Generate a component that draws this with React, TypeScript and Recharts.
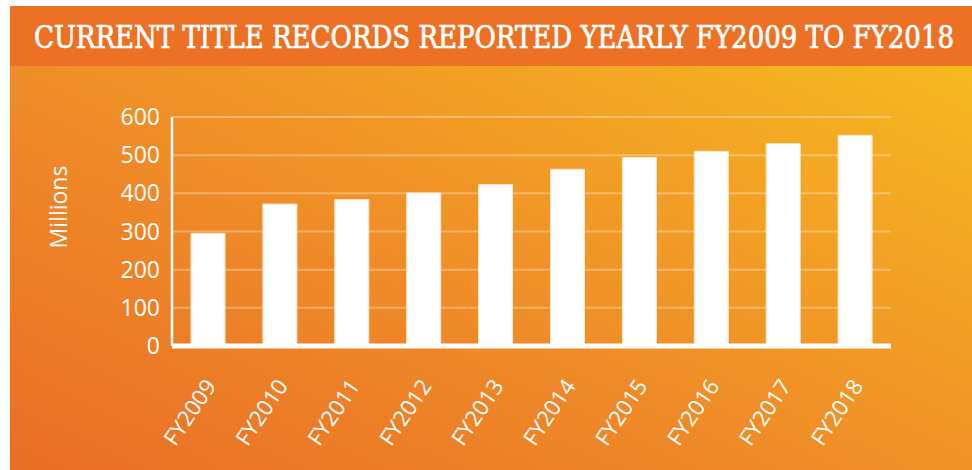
import { BarChart, Bar, XAxis, YAxis, CartesianGrid, Label } from "recharts";

const years = ["FY2009", "FY2010", "FY2011", "FY2012", "FY2013", "FY2014", "FY2015", "FY2016", "FY2017", "FY2018"];
const records = [295, 372, 384, 401, 423, 463, 494, 510, 530, 552];
const yTicks = [0, 100, 200, 300, 400, 500, 600];
const title = "CURRENT TITLE RECORDS REPORTED YEARLY FY2009 TO FY2018";
const yLabel = "Millions";

const rows = years.map((year, i) => ({ year, records: records[i] }));

const YearTick = ({ x, y, payload }: any) => {
  const ax = x + 9;
  const ay = y + 40;
  return (
    <text
      x={ax}
      y={ay}
      transform={`rotate(-56, ${ax}, ${ay})`}
      textAnchor="end"
      fill="#fff"
      fontSize={22}
      fontFamily="'Open Sans', sans-serif"
    >
      {payload.value}
    </text>
  );
};

export default function App() {
  return (
    <div style={{ position: "absolute", left: 0, top: 0, width: 972, height: 470, background: "#fff", overflow: "hidden" }}>
      <div
        style={{
          position: "absolute",
          left: 10,
          top: 6,
          width: 962,
          height: 464,
          background: "linear-gradient(to top right, #EA6E26 0%, #EF8A28 40%, #F3A524 72%, #F8BF1E 100%)",
        }}
      />
      <div style={{ position: "absolute", left: 10, top: 6, width: 962, height: 60, background: "#EC7125" }} />
      <svg style={{ position: "absolute", left: 0, top: 0 }} width={972} height={70}>
        <text
          x={494}
          y={48}
          textAnchor="middle"
          fill="#fff"
          stroke="#fff"
          strokeWidth={0.7}
          fontSize={31}
          fontFamily="'DejaVu Serif Condensed', 'DejaVu Serif', serif"
          fontStretch="condensed"
          textLength={920}
          lengthAdjust="spacingAndGlyphs"
        >
          {title}
        </text>
      </svg>
      <div style={{ position: "absolute", left: 0, top: 0 }}>
        <BarChart width={972} height={470} data={rows} margin={{ top: 117, right: 81, bottom: 0, left: 0 }} barSize={34}>
          <CartesianGrid vertical={false} stroke="rgba(255,255,255,0.3)" strokeWidth={2} />
          <YAxis
            width={172}
            domain={[0, 600]}
            ticks={yTicks}
            interval={0}
            tickSize={0}
            tickMargin={12}
            axisLine={{ stroke: "#fff", strokeWidth: 2.5 }}
            tickLine={false}
            tick={{ fill: "#fff", fontSize: 23, fontFamily: "'Open Sans', sans-serif" }}
          >
            <Label
              content={() => (
                <text
                  transform="translate(67, 207) rotate(-90)"
                  textAnchor="middle"
                  fill="#fff"
                  fontSize={23}
                  fontFamily="'Open Sans', sans-serif"
                >
                  {yLabel}
                </text>
              )}
            />
          </YAxis>
          <XAxis
            dataKey="year"
            height={124}
            interval={0}
            tickSize={0}
            tickMargin={0}
            tickLine={false}
            axisLine={{ stroke: "#fff", strokeWidth: 5 }}
            tick={<YearTick />}
          />
          <Bar dataKey="records" fill="#fff" stroke="#FFE6C8" strokeWidth={1} isAnimationActive={false} />
        </BarChart>
      </div>
    </div>
  );
}
